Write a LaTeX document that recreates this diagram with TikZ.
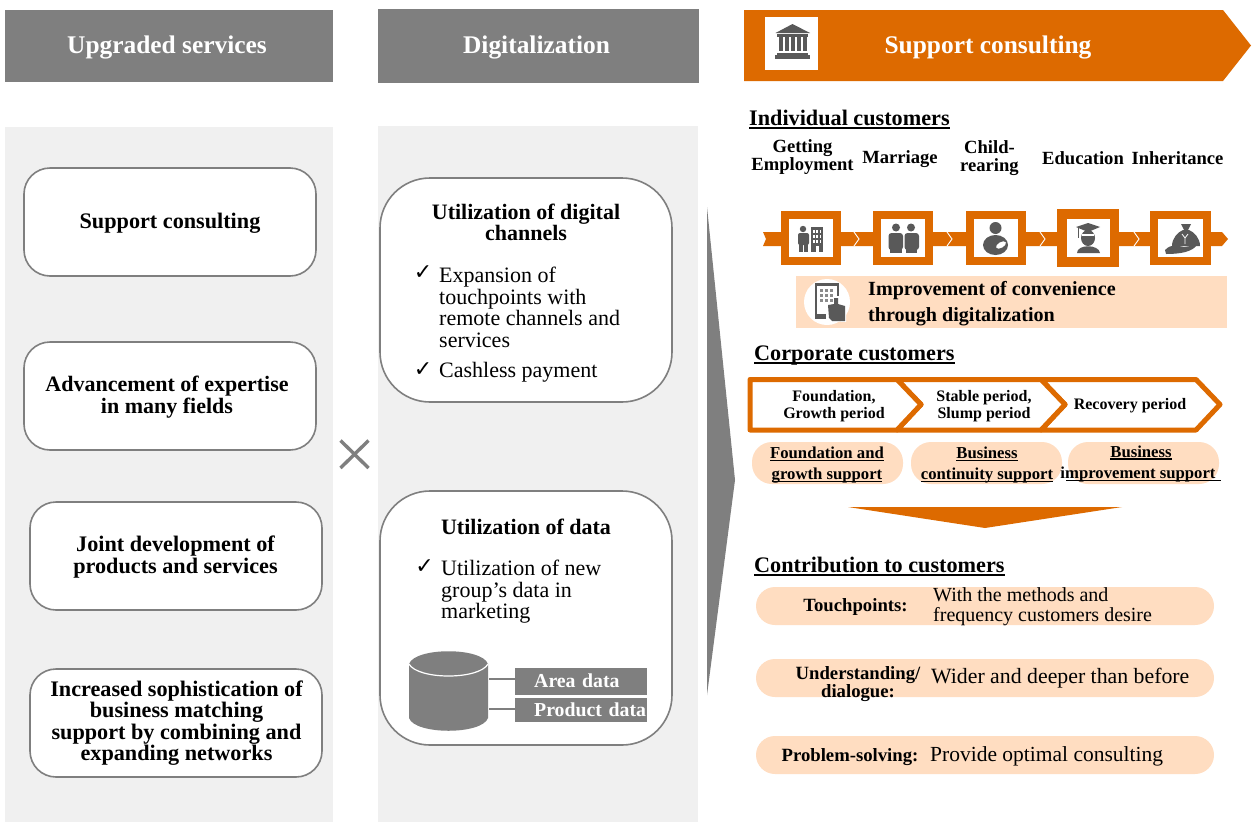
\documentclass[tikz,border=0pt]{standalone}
\usepackage{fontspec}
\setmainfont{Liberation Serif}
\newfontfamily\chk{DejaVu Sans}
\definecolor{hdr}{HTML}{7F7F7F}
\definecolor{org}{HTML}{DD6A00}
\definecolor{pch}{HTML}{FFDDC1}
\definecolor{pan}{HTML}{F0F0F0}
\definecolor{ico}{HTML}{595959}
\newcommand{\fs}[2]{\fontsize{#1}{#2}\selectfont}
\newsavebox{\ulbox}
\newcommand{\ul}[1]{\leavevmode\sbox{\ulbox}{\raisebox{0pt}[\height][0pt]{#1}}\rlap{\raisebox{-0.15em}[0pt][0pt]{\rule{\wd\ulbox}{0.07em}}}\usebox{\ulbox}}
\tikzset{
 txt/.style={inner sep=0pt,align=center,text=black},
 hb/.style={txt,font=\bfseries\fs{25.4}{28},text=white},
 b22/.style={txt,font=\bfseries\fs{22}{21.5}},
 sec/.style={txt,anchor=west,font=\bfseries\fs{22.2}{24}},
 life/.style={txt,font=\bfseries\fs{18.6}{18}},
 stage/.style={txt,font=\bfseries\fs{16}{20}},
 sup/.style={txt,font=\bfseries\fs{16.7}{21}},
 reg/.style={txt,anchor=north west,align=left,font=\fs{22}{21.5}},
 chkm/.style={txt,font=\chk\fs{22}{24}},
 cl/.style={txt,font=\bfseries\fs{18.7}{18.5}},
 cr/.style={txt,anchor=west,align=left,font=\fs{20}{20}},
 card/.style={draw=hdr,line width=1.6pt,fill=white,rounded corners=#1},
 card/.default=26pt,
 lbl/.style={fill=hdr,inner sep=0pt,text=white,font=\bfseries\fs{19.8}{22},anchor=west,align=left,text width=132pt},
 pill/.style={fill=pch,rounded corners=19pt},
 stg/.style={draw=org,line width=5pt,line join=round,fill=white},
}
\begin{document}
\begin{tikzpicture}[x=1pt,y=-1pt]
\useasboundingbox (0,0) rectangle (1257,822);
\fill[white] (0,0) rectangle (1257,822);
% panels
\fill[pan] (5,127) rectangle (333,822);
\fill[pan] (378,126) rectangle (698,822);
% headers
\fill[hdr] (5,10) rectangle (333,82);
\fill[hdr] (378,9) rectangle (699,83);
\fill[org] (744,10) -- (1223,10) -- (1251,45.5) -- (1223,81) -- (744,81) -- cycle;
\node[hb] (h1) at (167,47.5) {Upgraded services};
\node[hb] (h2) at (536.5,47.5) {Digitalization};
\node[hb] (h3) at (988,47.5) {Support consulting};
% bank icon
\fill[white] (765,17) rectangle (818,70);
\fill[ico] (792.5,24) -- (810,33) -- (775.5,33) -- cycle;
\fill[ico] (777,34) rectangle (808,36.5);
\foreach \x in {779,785,791,797,803} \fill[ico] (\x,37) rectangle (\x+3.6,51);
\fill[ico] (777,52.5) rectangle (808,54.5);
\fill[ico] (775,55) rectangle (810,59);
% left cards
\draw[card] (24,168) rectangle (316,276);
\draw[card] (24,342) rectangle (316,450);
\draw[card] (30,502) rectangle (322,610);
\draw[card] (30,669) rectangle (322,777);
\node[b22,font=\bfseries\fs{22.2}{21.5}] (l1) at (170,223) {Support consulting};
\node[b22] (l2) at (167,397) {Advancement of expertise\\in many fields};
\node[b22,font=\bfseries\fs{22.2}{21.5}] (l3) at (175.5,557) {Joint development of\\products and services};
\node[b22,font=\bfseries\fs{22.2}{21.5}] (l4) at (176.5,723) {Increased sophistication of\\business matching\\support by combining and\\expanding networks};
% cross
\draw[hdr,line width=3.4pt] (340.5,440.5) -- (368.5,468) (368.5,440.5) -- (340.5,468);
% middle cards
\draw[card=50pt] (380,178) rectangle (672,402);
\draw[card=50pt] (380,491) rectangle (672,745);
\node[b22] (m1) at (526,222.5) {Utilization of digital\\channels};
\node[chkm] (c1) at (423,273) {✓};
\node[reg] (m2) at (439,267) {Expansion of\\touchpoints with\\remote channels and\\services};
\node[chkm] (c2) at (423,369.5) {✓};
\node[reg] (m3) at (439,362) {Cashless payment};
\node[b22] (m4) at (526,527) {Utilization of data};
\node[chkm] (c3) at (424.5,567) {✓};
\node[reg] (m5) at (441,560) {Utilization of new\\group’s data in\\marketing};
% database
\node[lbl,minimum height=27pt] (d1) at (515,681.5) {\hspace*{19pt}\raisebox{1.5pt}{Area data}};
\node[lbl,minimum height=24pt] (d2) at (515,710) {\hspace*{19pt}\raisebox{1pt}{Product data}};
\coordinate (db1) at (489,679);
\coordinate (db2) at (489,709);
\draw[hdr,line width=2.6pt] (db1) -- (db1 -| d1.west);
\draw[hdr,line width=2.6pt] (db2) -- (db2 -| d2.west);
\fill[hdr] (409,664) .. controls (415,647) and (482,647) .. (488,664) -- (488,718) .. controls (482,735) and (415,735) .. (409,718) -- cycle;
\draw[white,line width=1.2pt] (409,664) .. controls (418,680) and (479,680) .. (488,664);
% big triangle
\fill[hdr] (707,207) -- (735,480) -- (707,695) -- cycle;
% individual
\node[sec] (s1) at (749,118) {\ul{Individual customers}};
\node[life] (t1) at (802.5,157) {Getting\\Employment};
\node[life] (t2) at (900,159) {Marriage};
\node[life] (t3) at (989.5,158) {Child-\\rearing};
\node[life] (t4) at (1083,158) {Education};
\node[life] (t5) at (1177.5,158) {Inheritance};
% timeline band
\fill[org] (763,232) -- (1222,232) -- (1228,239) -- (1222,246) -- (763,246) -- (766,239) -- cycle;
\foreach \x in {854,947,1040,1134} \draw[white,line width=.9pt] (\x,232) -- (\x+5,239) -- (\x,246);
\fill[org] (781,211) rectangle (841,265); \fill[white] (789,219) rectangle (833,257);
\fill[org] (873,211) rectangle (933,265); \fill[white] (881,219) rectangle (925,257);
\fill[org] (966,211) rectangle (1026,265); \fill[white] (974,219) rectangle (1018,257);
\fill[org] (1057,209) rectangle (1119,267); \fill[white] (1067,219) rectangle (1110,257);
\fill[org] (1150,211) rectangle (1211,265); \fill[white] (1158,219) rectangle (1203,257);
% icon: employment
\fill[ico] (803,229) circle (3.2);
\fill[ico,rounded corners=2pt] (798,233) rectangle (809,245); \fill[ico] (799,244) rectangle (803,252); \fill[ico] (804,244) rectangle (808,252);
\fill[ico] (811,227) rectangle (823,252);
\foreach \y in {230,235,240} \foreach \x in {813,816.3,819.6} \fill[white] (\x,\y) rectangle (\x+1.6,\y+3);
\fill[white] (815.5,246) rectangle (818.5,252);
% icon: marriage
\fill[ico] (896,227.5) circle (4); \fill[ico] (911,227.5) circle (4);
\fill[ico,rounded corners=3pt] (888.5,233) rectangle (903,250);
\fill[ico,rounded corners=3pt] (904.5,233) rectangle (919,250);
\fill[ico] (890,248) rectangle (902,253); \fill[ico] (906,248) rectangle (917,253);
% icon: child rearing
\fill[ico] (995.5,228) circle (6);
\fill[ico] (995.5,245) ellipse (12.5 and 10);
\fill[white,rotate around={30:(1001,245)}] (1001,245) ellipse (5.5 and 2.8);
% icon: education
\fill[ico] (1088,223) -- (1100,227) -- (1088,232) -- (1076,227) -- cycle;
\fill[ico] (1088,238) ellipse (7 and 8);
\fill[white] (1082,233.5) rectangle (1094,236);
\fill[ico] (1077,253) .. controls (1077,244) and (1099,244) .. (1100,253) -- cycle;
\draw[ico,line width=.8pt] (1078,228) -- (1078,238);
% icon: inheritance
\fill[ico] (1181,224) -- (1191,224) -- (1188,230) -- (1184,230) -- cycle;
\fill[ico] (1172,246) .. controls (1172,238) and (1178,232) .. (1183,230) -- (1189,230) .. controls (1194,232) and (1200,238) .. (1200,246) -- cycle;
\fill[ico] (1165,250) .. controls (1172,243) and (1178,246) .. (1184,247) -- (1197,245) .. controls (1192,252) and (1180,254) .. (1166,254) -- cycle;
\draw[white,line width=.8pt] (1182,234) -- (1185,238) -- (1188,234) (1185,238) -- (1185,244);
% convenience band
\fill[pch] (796,276) rectangle (1227,328);
\fill[white] (827,302) circle (23);
\fill[ico] (815,283) rectangle (839,319);
\fill[white] (817,286) rectangle (837,314);
\foreach \y in {289,294,299} \foreach \x in {820,825,830} \fill[ico!70] (\x,\y) rectangle (\x+2.5,\y+3);
\fill[white] (826,321) -- (826,303) -- (833,302) -- (833,296) -- (839,296) -- (839,302) -- (846,304) -- (846,322) -- cycle;
\fill[ico] (829,318) -- (828,305) -- (834,304) -- (834,298) -- (838,298) -- (838,304) -- (845,306) -- (845,321) -- (832,321) -- cycle;
\node[txt,anchor=west,align=left,font=\bfseries\fs{20.1}{26}] (conv) at (868,304) {Improvement of convenience\\through digitalization};
% corporate
\node[sec] (s2) at (754,353) {\ul{Corporate customers}};
\draw[stg] (1041,379.5) -- (1196,379.5) -- (1220,404.5) -- (1196,430) -- (1041,430) -- (1065,404.5) -- cycle;
\draw[stg] (897,379.5) -- (1041,379.5) -- (1065,404.5) -- (1041,430) -- (897,430) -- (921,404.5) -- cycle;
\draw[stg] (750,379.5) -- (897,379.5) -- (921,404.5) -- (897,430) -- (750,430) -- cycle;
\node[stage,font=\bfseries\fs{16}{16.5}] (p1) at (834,406) {Foundation,\\Growth period};
\node[stage,font=\bfseries\fs{16}{16.5}] (p2) at (984,406) {Stable period,\\Slump period};
\node[stage] (p3) at (1130,406) {Recovery period};
\fill[pch,rounded corners=20pt] (752,442) rectangle (903,484);
\fill[pch,rounded corners=20pt] (911,442) rectangle (1062,484);
\fill[pch,rounded corners=20pt] (1068,442) rectangle (1219,484);
\node[sup] (q1) at (827,463) {\ul{Foundation and}\\\ul{growth support}};
\node[sup] (q2) at (987,463) {\ul{Business}\\\ul{continuity support}};
\node[sup] (q3) at (1141,463.5) {\ul{Business}\\\hspace*{-6pt}improvement support};
\coordinate (u1) at (1066,480.5); \coordinate (u2) at (1221,480.5);
\draw[black,line width=1.2pt] (u1) -- (u2);
% down triangle
\fill[org] (848,507) -- (1122,507) -- (985,528) -- cycle;
% contribution
\node[sec] (s3) at (754,564.5) {\ul{Contribution to customers}};
\fill[pill] (756,587) rectangle (1214,625);
\fill[pill] (756,659) rectangle (1214,697);
\fill[pill] (756,736) rectangle (1214,774);
\node[cl] (k1) at (855.5,607) {Touchpoints:};
\node[cr] (v1) at (933,607) {With the methods and\\frequency customers desire};
\node[cl] (k2) at (858,684) {Understanding/\\dialogue:};
\node[cr,font=\fs{21.8}{22}] (v2) at (931,678) {Wider and deeper than before};
\node[cl] (k3) at (850,757) {Problem-solving:};
\node[cr,font=\fs{21.5}{22}] (v3) at (930,756) {Provide optimal consulting};
\end{tikzpicture}
\end{document}
